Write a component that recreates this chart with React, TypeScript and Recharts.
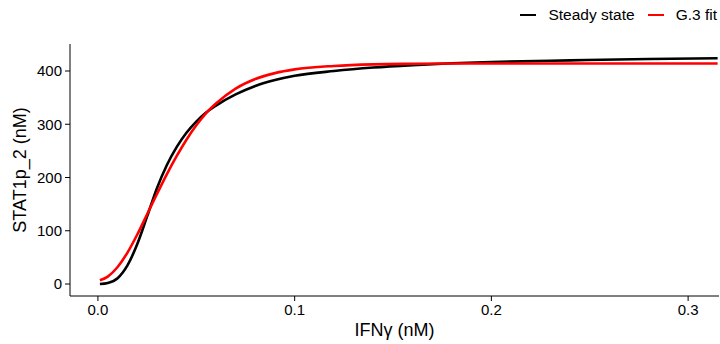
import { LineChart, Line, XAxis, YAxis } from 'recharts';

// IFNγ concentration (nM)
const ifng = [
  0.001, 0.005, 0.01, 0.015, 0.02, 0.025, 0.03, 0.035, 0.04, 0.045, 0.05, 0.055,
  0.06, 0.07, 0.08, 0.09, 0.1, 0.12, 0.14, 0.16, 0.18, 0.2, 0.24, 0.28, 0.315,
];
// STAT1p_2 (nM)
const steadyState = [
  0, 2, 11, 35, 75, 127, 180, 223, 257, 284, 305, 322,
  335, 356, 372, 383, 391, 400, 406.5, 411, 414.5, 417, 420, 422.5, 424,
];
const g3Fit = [
  7, 14, 32, 59, 93, 131, 169, 206, 240, 271, 298, 321,
  339, 367, 385, 396, 403, 409.5, 412.5, 413.5, 414, 414, 414, 414, 414,
];

const xTicks = [0, 0.1, 0.2, 0.3];
const yTicks = [0, 100, 200, 300, 400];

const data = ifng.map((x, i) => ({ x, steady: steadyState[i], fit: g3Fit[i] }));

const FONT = '"Liberation Sans", Arial, Helvetica, sans-serif';

const YTitle = ({ viewBox }: any) => {
  const cy = viewBox.y + viewBox.height / 2;
  return (
    <text x={26} y={cy} transform={`rotate(-90, 26, ${cy})`} textAnchor="middle" fontSize={18} fill="#000" fontFamily={FONT}>
      STAT1p_2 (nM)
    </text>
  );
};

const XTitle = ({ viewBox }: any) => (
  <text x={viewBox.x + viewBox.width / 2} y={336} textAnchor="middle" fontSize={18} fill="#000" fontFamily={FONT}>
    IFNγ (nM)
  </text>
);

const legendItems = [
  { label: 'Steady state', color: '#000000' },
  { label: 'G.3 fit', color: '#FF0000' },
];

export default function App() {
  return (
    <div style={{ position: 'absolute', left: 0, top: 0, width: 720, height: 344, background: '#fff', fontFamily: FONT }}>
      <div style={{ position: 'absolute', top: 6, right: 3, display: 'flex', alignItems: 'center', fontSize: 15.5, color: '#000' }}>
        {legendItems.map((it, i) => (
          <div key={it.label} style={{ display: 'flex', alignItems: 'center', marginLeft: i ? 13 : 0 }}>
            <span style={{ display: 'inline-block', width: 16, height: 2.5, background: it.color, marginRight: 12 }} />
            <span>{it.label}</span>
          </div>
        ))}
      </div>
      <LineChart width={720} height={344} data={data} margin={{ top: 44, right: 1, bottom: 0, left: 0 }}>
        <XAxis
          dataKey="x"
          type="number"
          domain={[-0.0142, 0.3157]}
          ticks={xTicks}
          allowDataOverflow
          tickFormatter={(v: number) => v.toFixed(1)}
          height={48}
          tickSize={5}
          tickMargin={3}
          stroke="#000"
          tick={{ fill: '#000', fontSize: 15, fontFamily: FONT }}
          label={<XTitle />}
        />
        <YAxis
          type="number"
          domain={[-22.5, 450.7]}
          ticks={yTicks}
          allowDataOverflow
          width={70}
          tickSize={5}
          tickMargin={3}
          stroke="#000"
          tick={{ fill: '#000', fontSize: 15, fontFamily: FONT }}
          label={<YTitle />}
        />
        <Line type="monotone" dataKey="steady" stroke="#000000" strokeWidth={2.6} dot={false} isAnimationActive={false} />
        <Line type="monotone" dataKey="fit" stroke="#FF0000" strokeWidth={2.6} dot={false} isAnimationActive={false} />
      </LineChart>
    </div>
  );
}
